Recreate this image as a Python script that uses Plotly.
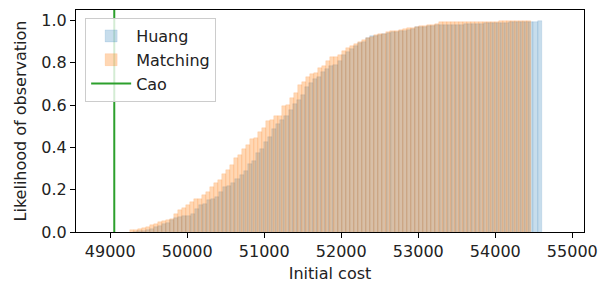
import numpy as np
import plotly.graph_objects as go

# ---- data ----
n_bins = 100
huang_range = (49300, 54602)
matching_range = (49250, 54464)
cao_cost = 49052

huang_cum = [
    0.002, 0.004, 0.007, 0.011, 0.016, 0.025, 0.027, 0.038, 0.043, 0.055,
    0.066, 0.070, 0.074, 0.078, 0.087, 0.107, 0.129, 0.134, 0.150, 0.154,
    0.165, 0.189, 0.213, 0.218, 0.233, 0.252, 0.268, 0.287, 0.323, 0.334,
    0.375, 0.394, 0.428, 0.450, 0.488, 0.512, 0.528, 0.551, 0.575, 0.606,
    0.622, 0.646, 0.685, 0.704, 0.724, 0.735, 0.756, 0.770, 0.787, 0.792,
    0.810, 0.838, 0.853, 0.866, 0.879, 0.895, 0.901, 0.917, 0.926, 0.926,
    0.932, 0.937, 0.942, 0.945, 0.948, 0.951, 0.953, 0.957, 0.962, 0.968,
    0.968, 0.970, 0.972, 0.973, 0.978, 0.978, 0.979, 0.980, 0.980, 0.980,
    0.981, 0.982, 0.983, 0.984, 0.985, 0.986, 0.987, 0.988, 0.988, 0.989,
    0.990, 0.990, 0.991, 0.992, 0.992, 0.993, 0.993, 0.991, 0.991, 1.000,
]

matching_cum = [
    0.008, 0.011, 0.014, 0.019, 0.023, 0.031, 0.036, 0.045, 0.052, 0.058,
    0.063, 0.084, 0.102, 0.113, 0.126, 0.141, 0.154, 0.158, 0.173, 0.189,
    0.213, 0.233, 0.244, 0.276, 0.291, 0.318, 0.349, 0.362, 0.394, 0.413,
    0.438, 0.444, 0.472, 0.493, 0.523, 0.531, 0.547, 0.551, 0.594, 0.602,
    0.635, 0.658, 0.693, 0.709, 0.735, 0.745, 0.754, 0.776, 0.787, 0.811,
    0.827, 0.830, 0.839, 0.858, 0.869, 0.882, 0.890, 0.898, 0.910, 0.916,
    0.923, 0.932, 0.935, 0.938, 0.948, 0.953, 0.953, 0.954, 0.961, 0.965,
    0.965, 0.968, 0.972, 0.972, 0.980, 0.980, 0.984, 0.991, 0.991, 0.991,
    0.991, 0.991, 0.991, 0.994, 0.995, 0.995, 0.995, 0.995, 0.995, 0.995,
    0.995, 0.995, 0.996, 0.996, 0.996, 0.996, 0.997, 0.999, 1.000, 1.000,
]

x_ticks = [49000, 50000, 51000, 52000, 53000, 54000, 55000]
y_ticks = [0.0, 0.2, 0.4, 0.6, 0.8, 1.0]


def bins(rng, n):
    edges = np.linspace(rng[0], rng[1], n + 1)
    return (edges[:-1] + edges[1:]) / 2, edges[1] - edges[0]


hx, hw = bins(huang_range, n_bins)
mx, mw = bins(matching_range, n_bins)

FONT = "DejaVu Sans"
FS = 16
fig = go.Figure()
fig.add_trace(go.Bar(
    x=hx, y=huang_cum, width=hw, name="Huang",
    marker=dict(color="rgba(31,119,180,0.25)",
                line=dict(color="rgba(31,119,180,0.25)", width=0.5)),
))
fig.add_trace(go.Bar(
    x=mx, y=matching_cum, width=mw, name="Matching",
    marker=dict(color="rgba(255,127,14,0.31)",
                line=dict(color="rgba(255,127,14,0.28)", width=0.5)),
))
fig.add_trace(go.Scatter(
    x=[cao_cost, cao_cost], y=[0, 1.05], mode="lines", name="Cao",
    line=dict(color="#2ca02c", width=2),
))

axis_common = dict(
    showline=True, linecolor="black", linewidth=1, mirror=True,
    ticks="outside", ticklen=5, tickcolor="black", tickwidth=1,
    showgrid=False, zeroline=False, automargin=False,
    tickfont=dict(family=FONT, size=FS, color="#222"),
)
fig.update_layout(
    width=601, height=285,
    margin=dict(l=76, r=17, t=10, b=53),
    plot_bgcolor="white", paper_bgcolor="white",
    barmode="overlay", bargap=0,
    font=dict(family=FONT, size=FS, color="#222"),
    xaxis=dict(range=[48555, 55152], tickvals=x_ticks,
               ticktext=[str(v) for v in x_ticks],
               title=dict(text="Initial cost", font=dict(family=FONT, size=FS), standoff=7),
               **axis_common),
    yaxis=dict(range=[0, 1.05], tickvals=y_ticks,
               ticktext=[f"{v:.1f}" for v in y_ticks],
               title=dict(text="Likelihood of observation", font=dict(family=FONT, size=FS), standoff=10),
               **axis_common),
    legend=dict(x=0.018, y=0.964, xanchor="left", yanchor="top",
                bgcolor="rgba(255,255,255,0.8)", bordercolor="#cccccc", borderwidth=1,
                font=dict(family=FONT, size=FS), tracegroupgap=0, itemwidth=40),
    showlegend=True,
)
fig.write_html("out.html", config={"displayModeBar": False},
               post_script="document.body.style.margin='0';document.body.style.overflow='hidden';")
